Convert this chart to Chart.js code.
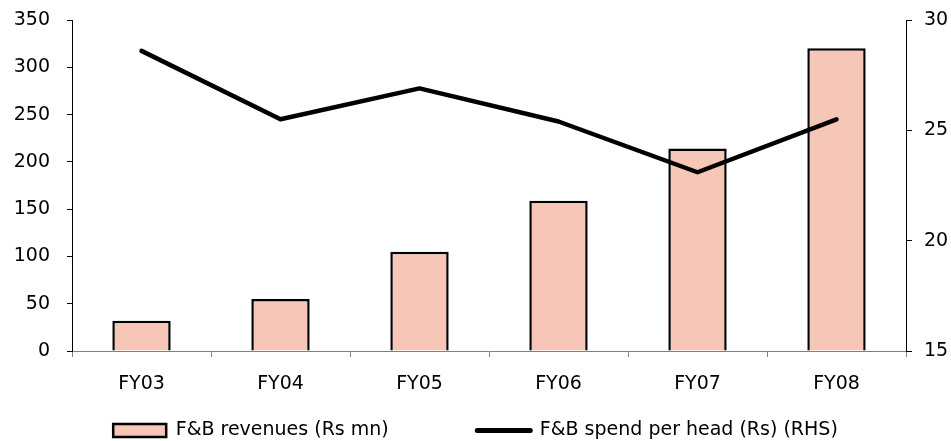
<!DOCTYPE html>
<html>
<head>
<meta charset="utf-8">
<script src="https://cdn.jsdelivr.net/npm/chart.js@4/dist/chart.umd.min.js"></script>
<style>
  html, body { margin: 0; padding: 0; background: #fff; }
  #wrap { width: 951px; height: 441px; }
</style>
</head>
<body>
<div id="wrap"><canvas id="fbChart" width="951" height="441"></canvas></div>
<script>
// chart data
const years = ['FY03', 'FY04', 'FY05', 'FY06', 'FY07', 'FY08'];
const fbRevenues = [32, 55, 105, 159, 214, 320];          // Rs mn, left axis
const spendPerHead = [28.6, 25.5, 26.9, 25.4, 23.1, 25.5]; // Rs, right axis
const leftTicks = [0, 50, 100, 150, 200, 250, 300, 350];
const rightTicks = [15, 20, 25, 30];

Chart.defaults.font.family = '"DejaVu Sans", Verdana, sans-serif';
Chart.defaults.font.size = 19;
Chart.defaults.color = '#000';

const barFill = 'rgb(246, 198, 182)';

// legend items built from the default ones, kept in dataset order
function legendItems(chart) {
  const items = Chart.defaults.plugins.legend.labels.generateLabels(chart);
  items.sort((a, b) => a.datasetIndex - b.datasetIndex);
  items.forEach(item => {
    if (item.datasetIndex === 0) {
      item.pointStyle = 'rect';
      item.fillStyle = barFill;
      item.strokeStyle = '#000';
      item.lineWidth = 2.5;
      // trailing spaces give the gap before the second item
      item.text = item.text + '             ';
    } else {
      item.pointStyle = 'line';
      item.strokeStyle = '#000';
      item.fillStyle = '#000';
      item.lineWidth = 5;
      item.lineCap = 'round';
    }
  });
  return items;
}

// fixed axis sizes so the plot box sits where the original one does
function fitSide(width) {
  return scale => {
    scale.width = width;
    scale.paddingTop = 0;
    scale.paddingBottom = 0;
  };
}

const ctx = document.getElementById('fbChart').getContext('2d');
const fbChart = new Chart(ctx, {
  type: 'bar',
  data: {
    labels: years,
    datasets: [
      {
        type: 'bar',
        label: 'F&B revenues (Rs mn)',
        data: fbRevenues,
        yAxisID: 'y',
        backgroundColor: barFill,
        borderColor: '#000',
        borderWidth: 2.5,
        barPercentage: 0.42,
        categoryPercentage: 1,
        order: 2
      },
      {
        type: 'line',
        label: 'F&B spend per head (Rs) (RHS)',
        data: spendPerHead,
        yAxisID: 'y1',
        borderColor: '#000',
        backgroundColor: '#000',
        borderWidth: 4.5,
        borderCapStyle: 'round',
        borderJoinStyle: 'round',
        pointRadius: 0,
        tension: 0,
        order: 1
      }
    ]
  },
  options: {
    responsive: false,
    animation: false,
    devicePixelRatio: 1,
    layout: { padding: { top: 20, left: 0, right: 0, bottom: 0 } },
    plugins: {
      tooltip: { enabled: false },
      legend: {
        position: 'bottom',
        align: 'center',
        maxHeight: 30,
        labels: {
          usePointStyle: true,
          pointStyleWidth: 53,
          boxHeight: 13,
          padding: 10,
          color: '#000',
          generateLabels: legendItems
        }
      }
    },
    scales: {
      x: {
        grid: { offset: true, drawOnChartArea: false, tickLength: 6, color: '#808080' },
        border: { color: '#808080', width: 1 },
        ticks: { padding: 16 },
        afterFit: scale => { scale.height = 60; }
      },
      y: {
        position: 'left',
        min: 0,
        max: 350,
        afterBuildTicks: scale => { scale.ticks = leftTicks.map(v => ({ value: v })); },
        grid: { drawOnChartArea: false, tickLength: 5, color: '#000' },
        border: { color: '#000', width: 1 },
        ticks: { padding: 17 },
        afterFit: fitSide(72)
      },
      y1: {
        position: 'right',
        min: 15,
        max: 30,
        afterBuildTicks: scale => { scale.ticks = rightTicks.map(v => ({ value: v })); },
        grid: { drawOnChartArea: false, tickLength: 6, color: '#000' },
        border: { color: '#000', width: 1 },
        ticks: { padding: 12 },
        afterFit: fitSide(45)
      }
    }
  }
});
</script>
</body>
</html>
